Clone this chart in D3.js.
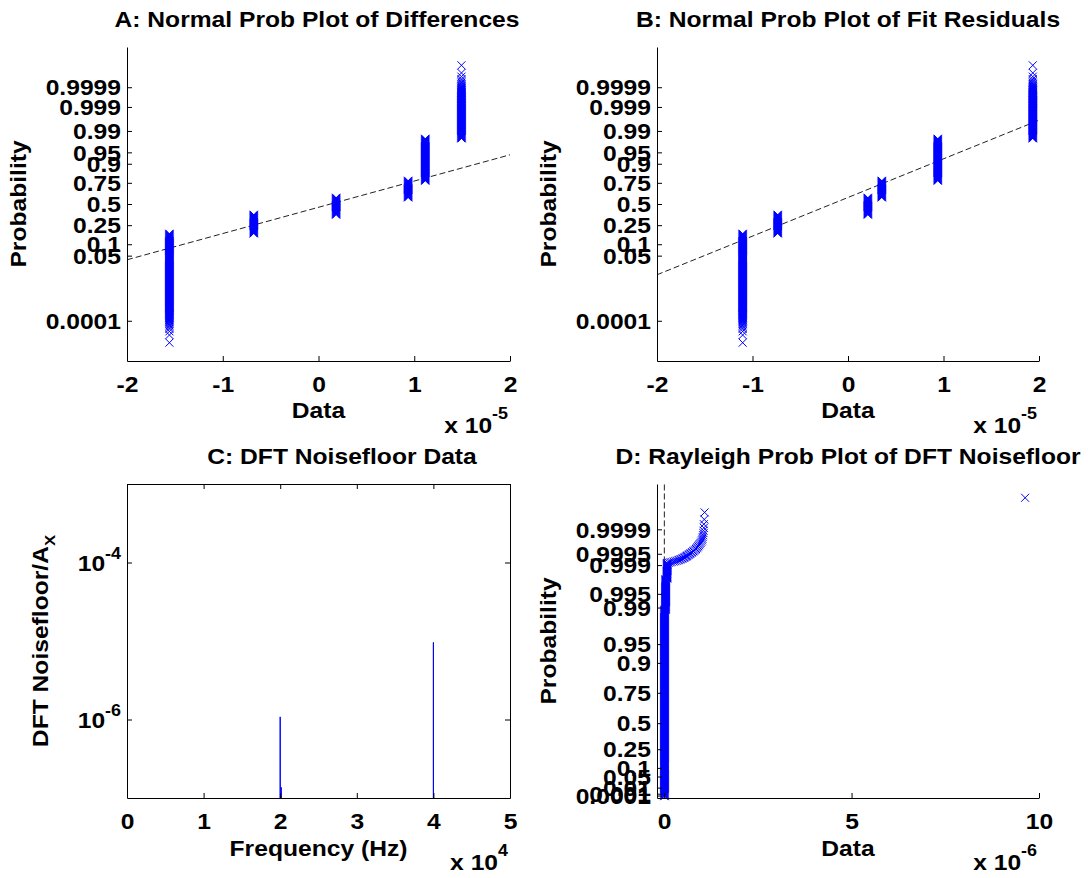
<!DOCTYPE html>
<html>
<head>
<meta charset="utf-8">
<script src="https://cdn.jsdelivr.net/npm/d3@7"></script>
<style>
body { margin: 0; background: #fff; }
svg { display: block; font-family: "Liberation Sans", Arial, sans-serif; font-weight: bold; }
</style>
</head>
<body>
<div id="fig"></div>
<script>
// ---------- data ----------

// A / B : quantised samples, how many fall on each level
var nSamples = 100000;
var levelCounts = [17500, 19200, 21700, 18700, 21080, 1820];
var diffLevels = [-1.557e-5, -0.676e-5, 0.184e-5, 0.936e-5, 1.115e-5, 1.493e-5];
var residLevels = [-1.103e-5, -0.736e-5, 0.208e-5, 0.354e-5, 0.940e-5, 1.935e-5];
var refX = [-2e-5, 2e-5];
var diffRefProb = [0.0378, 0.9414];     // dashed fit line, probability at refX ends
var residRefProb = [0.0121, 0.9962];
var normTicks = [0.0001, 0.05, 0.1, 0.25, 0.5, 0.75, 0.9, 0.95, 0.99, 0.999, 0.9999];
var dataTicksAB = [-2e-5, -1e-5, 0, 1e-5, 2e-5];

// C : DFT noisefloor (bins that show above 1e-7)
var dftFreq = [19990, 20000, 20010, 20120, 20130, 20140, 39990, 40000, 40010];
var dftAmp = [1e-9, 1.08e-6, 1e-9, 1e-9, 1.37e-7, 1e-9, 1e-9, 9.6e-6, 1e-9];
var freqTicks = [0, 1e4, 2e4, 3e4, 4e4, 5e4];
var ampTicks = [1e-6, 1e-4];

// D : sorted noisefloor magnitudes (runs of equal values, then the largest ones)
var nBins = 50000;
var bulkValues = [0.01e-6, 0.04e-6, 0.08e-6];
var bulkCounts = [49445, 445, 66];
var tailValues = [0.12, 0.16, 0.20, 0.25, 0.29, 0.33, 0.37, 0.40, 0.43, 0.46,
                  0.49, 0.52, 0.54, 0.57, 0.59, 0.61, 0.63, 0.66, 0.68, 0.70,
                  0.73, 0.75, 0.78, 0.80, 0.83, 0.85, 0.87, 0.89, 0.91, 0.93,
                  0.95, 0.97, 0.99, 1.01, 1.02, 1.03, 1.04, 1.05, 1.05, 1.06,
                  1.06, 1.07, 1.08, 9.63];   // x 1e-6
var raylRefX = [0.005e-6, 0.006e-6];
var raylRefProb = [0, 0.9999966];
var raylTicks = [0.0001, 0.001, 0.01, 0.05, 0.1, 0.25, 0.5, 0.75, 0.9, 0.95, 0.99, 0.995, 0.999, 0.9995, 0.9999];
var dataTicksD = [0, 5e-6, 10e-6];

// ---------- layout ----------
var W = 1088, H = 878;
var fontSize = 22, sx = 1.12;   // text in the picture is a bit wider than Arial
var panelA = {left: 127, right: 510, top: 47, bottom: 361};
var panelB = {left: 657, right: 1039, top: 47, bottom: 361};
var panelC = {left: 127, right: 510, top: 484, bottom: 798};
var panelD = {left: 657, right: 1039, top: 484, bottom: 798};
var blue = "#0000ff";

var svg = d3.select("#fig").append("svg").attr("width", W).attr("height", H);

// inverse normal cdf (Acklam)
function norminv(p) {
  var a = [-3.969683028665376e+01, 2.209460984245205e+02, -2.759285104469687e+02, 1.383577518672690e+02, -3.066479806614716e+01, 2.506628277459239e+00];
  var b = [-5.447609879822406e+01, 1.615858368580409e+02, -1.556989798598866e+02, 6.680131188771972e+01, -1.328068155288572e+01];
  var c = [-7.784894002430293e-03, -3.223964580411365e-01, -2.400758277161838e+00, -2.549732539343734e+00, 4.374664141464968e+00, 2.938163982698783e+00];
  var d = [7.784695709041462e-03, 3.224671290700398e-01, 2.445134137142996e+00, 3.754408661907416e+00];
  var q, r;
  if (p < 0.02425) {
    q = Math.sqrt(-2 * Math.log(p));
    return (((((c[0]*q+c[1])*q+c[2])*q+c[3])*q+c[4])*q+c[5]) / ((((d[0]*q+d[1])*q+d[2])*q+d[3])*q+1);
  }
  if (p > 1 - 0.02425) {
    q = Math.sqrt(-2 * Math.log(1 - p));
    return -(((((c[0]*q+c[1])*q+c[2])*q+c[3])*q+c[4])*q+c[5]) / ((((d[0]*q+d[1])*q+d[2])*q+d[3])*q+1);
  }
  q = p - 0.5; r = q * q;
  return (((((a[0]*r+a[1])*r+a[2])*r+a[3])*r+a[4])*r+a[5])*q / (((((b[0]*r+b[1])*r+b[2])*r+b[3])*r+b[4])*r+1);
}
// rayleigh probability paper
function raylinv(p) { return Math.sqrt(-2 * Math.log(1 - p)); }

function num(v) { return String(Math.round(v * 100) / 100); }

function label(x, y, rot, anchor) {
  return svg.append("text")
    .attr("transform", "translate(" + x + "," + y + ")" + (rot ? " rotate(" + rot + ")" : "") + " scale(" + sx + ",1)")
    .attr("text-anchor", anchor || "middle")
    .attr("font-size", fontSize)
    .attr("fill", "#000");
}

function expLabel(p, power) {
  var t = label(p.right - 2, p.bottom + 72, 0, "end");
  t.append("tspan").text("x 10");
  t.append("tspan").attr("dy", -14).attr("font-size", 16).text(power);
}

function fixAxis(g) {
  g.attr("font-family", null).attr("font-size", null);
  g.select(".domain").attr("stroke", "#000");
  g.selectAll(".tick line").attr("stroke", "#000");
  g.selectAll(".tick text").attr("fill", "#000").attr("font-size", fontSize)
    .attr("transform", "scale(" + sx + ",1)");
  return g;
}

function leftAxis(p, scale, values, fmt) {
  var g = svg.append("g").attr("transform", "translate(" + p.left + ",0)")
    .call(d3.axisLeft(scale).tickValues(values).tickSizeInner(-5).tickSizeOuter(0).tickFormat(fmt));
  fixAxis(g);
  g.selectAll(".tick text").attr("x", -6 / sx).attr("dy", "0.35em");
  return g;
}

function bottomAxis(p, scale, values, fmt) {
  var g = svg.append("g").attr("transform", "translate(0," + p.bottom + ")")
    .call(d3.axisBottom(scale).tickValues(values).tickSizeInner(-5).tickSizeOuter(0).tickFormat(fmt));
  fixAxis(g);
  g.selectAll(".tick text").attr("y", 31).attr("dy", null);
  return g;
}

function drawMarkers(pts) {
  svg.append("g")
    .selectAll("path")
    .data(pts)
    .join("path")
    .attr("transform", function(d) { return "translate(" + d[0] + "," + d[1] + ")"; })
    .attr("d", "M-4,-4L4,4M-4,4L4,-4")
    .attr("fill", "none")
    .attr("stroke", blue)
    .attr("stroke-width", 1);
}

// ---------- A and B: normal probability plots ----------
function probPanel(p, levels, refProb, titleText, titleX) {
  var x = d3.scaleLinear().domain(refX).range([p.left, p.right]);
  var z = d3.scaleLinear().domain([-5, 5]).range([p.bottom, p.top]);

  // dashed reference line
  svg.append("path")
    .datum(refX.map(function(v, i) { return [v, refProb[i]]; }))
    .attr("d", d3.line().x(function(d) { return x(d[0]); }).y(function(d) { return z(norminv(d[1])); }))
    .attr("fill", "none")
    .attr("stroke", "#222")
    .attr("stroke-width", 1)
    .attr("stroke-dasharray", "6,3");

  // one marker per sample, skipping ones that land on the same half pixel
  var pts = [], rank = 0;
  levels.forEach(function(v, j) {
    var seen = {};
    for (var i = 0; i < levelCounts[j]; i++) {
      rank++;
      var y = z(norminv((rank - 0.5) / nSamples));
      var key = Math.round(y * 2);
      if (seen[key]) continue;
      seen[key] = true;
      pts.push([x(v), y]);
    }
  });
  drawMarkers(pts);

  leftAxis(p, z, normTicks.map(norminv), function(d, i) { return String(normTicks[i]); });
  bottomAxis(p, x, dataTicksAB, function(d) { return num(d / 1e-5); });

  label(titleX, 27).text(titleText);
  label(p.left - 101, (p.top + p.bottom) / 2, -90).text("Probability");
  label((p.left + p.right) / 2, p.bottom + 57).text("Data");
  expLabel(p, "-5");
}

probPanel(panelA, diffLevels, diffRefProb, "A: Normal Prob Plot of Differences", 317);
probPanel(panelB, residLevels, residRefProb, "B: Normal Prob Plot of Fit Residuals", 848);

// ---------- C: DFT noisefloor ----------
(function() {
  var p = panelC;
  var x = d3.scaleLinear().domain([0, 5e4]).range([p.left, p.right]);
  var y = d3.scaleLog().domain([1e-7, 1e-3]).range([p.bottom, p.top]);

  svg.append("clipPath").attr("id", "clipC")
    .append("rect").attr("x", p.left).attr("y", p.top)
    .attr("width", p.right - p.left).attr("height", p.bottom - p.top);

  svg.append("path")
    .datum(dftFreq.map(function(f, i) { return [f, dftAmp[i]]; }))
    .attr("clip-path", "url(#clipC)")
    .attr("d", d3.line().x(function(d) { return x(d[0]); }).y(function(d) { return y(d[1]); }))
    .attr("fill", "none")
    .attr("stroke", blue)
    .attr("stroke-width", 1);

  var gy = leftAxis(p, y, ampTicks, function(d) { return ""; });
  gy.selectAll(".tick text").each(function(d) {
    var t = d3.select(this);
    t.append("tspan").text("10");
    t.append("tspan").attr("dy", -12).attr("font-size", 16).text(String(Math.round(Math.log10(d))));
  });
  bottomAxis(p, x, freqTicks, function(d) { return num(d / 1e4); });

  // box with mirrored ticks
  fixAxis(svg.append("g").attr("transform", "translate(0," + p.top + ")")
    .call(d3.axisTop(x).tickValues(freqTicks).tickSizeInner(-5).tickSizeOuter(0).tickFormat("")));
  fixAxis(svg.append("g").attr("transform", "translate(" + p.right + ",0)")
    .call(d3.axisRight(y).tickValues(ampTicks).tickSizeInner(-5).tickSizeOuter(0).tickFormat("")));

  label(342, 464).text("C: DFT Noisefloor Data");
  var yl = label(p.left - 79, (p.top + p.bottom) / 2, -90);
  yl.append("tspan").text("DFT Noisefloor/A");
  yl.append("tspan").attr("dy", 7).attr("font-size", 15).text("X");
  label((p.left + p.right) / 2, p.bottom + 58).text("Frequency (Hz)");
  expLabel(p, "4");
})();

// ---------- D: Rayleigh probability plot ----------
(function() {
  var p = panelD;
  var x = d3.scaleLinear().domain([-0.19e-6, 10e-6]).range([p.left, p.right]);
  var q = d3.scaleLinear().domain([-0.025, 5.02]).range([p.bottom, p.top]);

  svg.append("path")
    .datum(raylRefX.map(function(v, i) { return [v, raylRefProb[i]]; }))
    .attr("d", d3.line().x(function(d) { return x(d[0]); }).y(function(d) { return q(raylinv(d[1])); }))
    .attr("fill", "none")
    .attr("stroke", "#222")
    .attr("stroke-width", 1)
    .attr("stroke-dasharray", "6,3");

  var values = [];
  bulkValues.forEach(function(v, j) { values.push([v, bulkCounts[j]]); });
  tailValues.forEach(function(v) { values.push([v * 1e-6, 1]); });

  var pts = [], seen = {}, rank = 0;
  values.forEach(function(run) {
    for (var i = 0; i < run[1]; i++) {
      rank++;
      var px = x(run[0]), py = q(raylinv((rank - 0.5) / nBins));
      var key = Math.round(px) + "," + Math.round(py * 2);
      if (seen[key]) continue;
      seen[key] = true;
      pts.push([px, py]);
    }
  });
  drawMarkers(pts);

  leftAxis(p, q, raylTicks.map(raylinv), function(d, i) { return String(raylTicks[i]); });
  bottomAxis(p, x, dataTicksD, function(d) { return num(d / 1e-6); });

  label(848, 463.5).text("D: Rayleigh Prob Plot of DFT Noisefloor");
  label(p.left - 101, (p.top + p.bottom) / 2, -90).text("Probability");
  label((p.left + p.right) / 2, p.bottom + 58).text("Data");
  expLabel(p, "-6");
})();
</script>
</body>
</html>
